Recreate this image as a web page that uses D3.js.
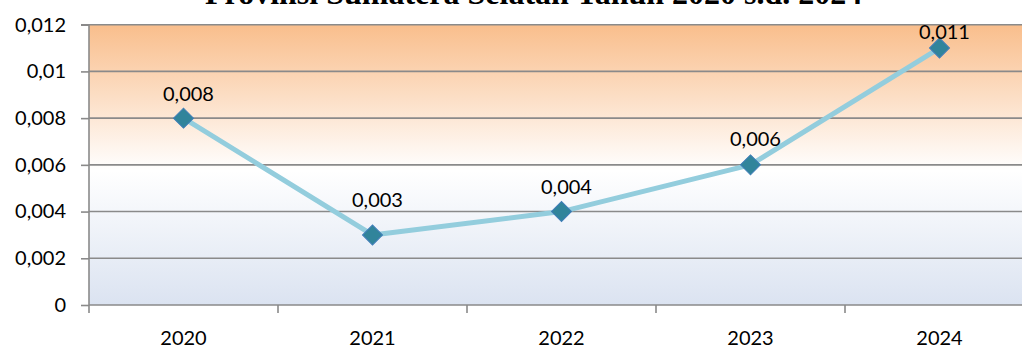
<!DOCTYPE html>
<html>
<head>
<meta charset="utf-8">
<script src="https://cdn.jsdelivr.net/npm/d3@7"></script>
<style>
  html, body { margin: 0; padding: 0; background: #ffffff; overflow: hidden; }
  svg { display: block; }
</style>
</head>
<body>
<svg id="chart" width="1022" height="347"></svg>
<script>
// ---- data ----
const titleText = "Provinsi Sumatera Selatan Tahun 2020 s.d. 2024";
const years = ["2020", "2021", "2022", "2023", "2024"];
const values = [0.008, 0.003, 0.004, 0.006, 0.011];
const valueLabels = ["0,008", "0,003", "0,004", "0,006", "0,011"];
const yTicks = [0, 0.002, 0.004, 0.006, 0.008, 0.01, 0.012];
const yTickLabels = ["0", "0,002", "0,004", "0,006", "0,008", "0,01", "0,012"];

// ---- layout / style ----
const labelLift = [24, 35, 25, 26, 16];
const W = 1022, H = 347;
const plot = { left: 89, top: 24.7, bottom: 305, bandW: 189 };
const font = "Lato, 'Open Sans', sans-serif";

const svg = d3.select("#chart");

const x = d3.scaleBand()
  .domain(years)
  .range([plot.left, plot.left + plot.bandW * years.length])
  .padding(0);
const y = d3.scaleLinear().domain([0, 0.012]).range([plot.bottom, plot.top]);

// background gradient
const defs = svg.append("defs");
const grad = defs.append("linearGradient")
  .attr("id", "bg").attr("x1", 0).attr("y1", 0).attr("x2", 0).attr("y2", 1);
grad.append("stop").attr("offset", "0%").attr("stop-color", "#F9BE8C");
grad.append("stop").attr("offset", "52%").attr("stop-color", "#FFFFFF");
grad.append("stop").attr("offset", "100%").attr("stop-color", "#DBE3F1");

svg.append("rect")
  .attr("x", plot.left).attr("y", y(0.012))
  .attr("width", plot.bandW * years.length)
  .attr("height", y(0) - y(0.012))
  .attr("fill", "url(#bg)");

// title (clipped at top)
svg.append("text")
  .attr("x", 205).attr("y", 4)
  .attr("font-family", "'Liberation Serif', 'Times New Roman', serif")
  .attr("font-weight", "bold")
  .attr("font-size", 32)
  .attr("fill", "#000")
  .text(titleText);

// gridlines
svg.append("g")
  .selectAll("line")
  .data(yTicks.filter(d => d > 0))
  .join("line")
  .attr("x1", plot.left).attr("x2", W + 20)
  .attr("y1", d => y(d)).attr("y2", d => y(d))
  .attr("stroke", "#8A8A8A").attr("stroke-width", 1.6);

// y axis
const yAxis = d3.axisLeft(y)
  .tickValues(yTicks)
  .tickFormat((d, i) => yTickLabels[i])
  .tickSize(8)
  .tickPadding(15);
const gy = svg.append("g").attr("transform", `translate(${plot.left},0)`).call(yAxis);
gy.select(".domain").attr("stroke", "#8A8A8A").attr("stroke-width", 1.6)
  .attr("d", `M-8,${y(0.012)}H0V${y(0)}`);
gy.selectAll(".tick line").attr("stroke", "#8A8A8A").attr("stroke-width", 1.6);
gy.selectAll(".tick text")
  .attr("font-family", font).attr("font-size", 20).attr("fill", "#000");

// x axis: tick marks at band boundaries
const gx = svg.append("g").attr("transform", `translate(0,${y(0)})`);
gx.append("line")
  .attr("x1", plot.left).attr("x2", W + 20)
  .attr("y1", 0).attr("y2", 0)
  .attr("stroke", "#8A8A8A").attr("stroke-width", 1.6);
gx.selectAll("line.tk")
  .data(years)
  .join("line").attr("class", "tk")
  .attr("x1", d => x(d)).attr("x2", d => x(d))
  .attr("y1", 0).attr("y2", 8)
  .attr("stroke", "#8A8A8A").attr("stroke-width", 1.6);
gx.selectAll("text")
  .data(years)
  .join("text")
  .attr("x", d => x(d) + x.bandwidth() / 2)
  .attr("y", 40)
  .attr("text-anchor", "middle")
  .attr("font-family", font).attr("font-size", 20).attr("fill", "#000")
  .text(d => d);

// line
const pts = years.map((yr, i) => ({ yr, v: values[i], lab: valueLabels[i], lift: labelLift[i] }));
const line = d3.line()
  .x(d => x(d.yr) + x.bandwidth() / 2)
  .y(d => y(d.v));
svg.append("path")
  .datum(pts)
  .attr("d", line)
  .attr("fill", "none")
  .attr("stroke", "#93CDDD")
  .attr("stroke-width", 5)
  .attr("stroke-linejoin", "round")
  .attr("stroke-linecap", "round");

// markers (diamonds)
const diamond = d3.symbol().type(d3.symbolSquare).size(200);
svg.append("g")
  .selectAll("path")
  .data(pts)
  .join("path")
  .attr("d", diamond)
  .attr("transform", d => `translate(${x(d.yr) + x.bandwidth() / 2},${y(d.v)}) rotate(45)`)
  .attr("fill", "#31849B")
  .attr("stroke", "#3F7DB8")
  .attr("stroke-width", 1);

// data labels
svg.append("g")
  .selectAll("text")
  .data(pts)
  .join("text")
  .attr("x", d => x(d.yr) + x.bandwidth() / 2 + 5)
  .attr("y", d => y(d.v) - d.lift + 7)
  .attr("text-anchor", "middle")
  .attr("font-family", font).attr("font-size", 20).attr("fill", "#000")
  .text(d => d.lab);
</script>
</body>
</html>
